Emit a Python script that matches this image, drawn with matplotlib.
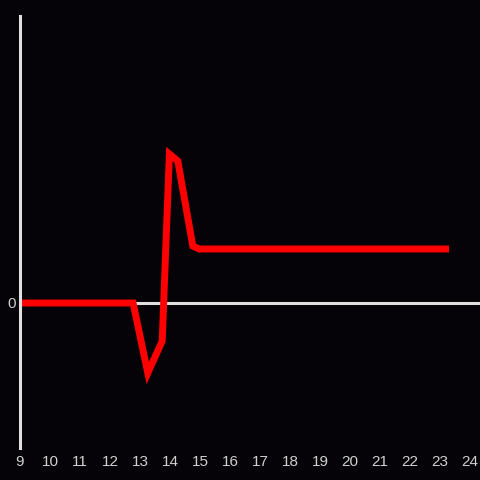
import matplotlib
matplotlib.use("Agg")
from matplotlib import pyplot as plt

# values
x = [9, 12.77, 13.26, 13.74, 13.98, 14.26, 14.76, 14.97, 23.3]
y = [0, 0, -0.70, -0.38, 1.49, 1.42, 0.57, 0.54, 0.54]
xticks = list(range(9, 25))

bg = "#050307"
fig = plt.figure(figsize=(4.8, 4.8), dpi=100, facecolor=bg)
ax = fig.add_axes([20/480, 32/480, 460/480, 432/480], facecolor=bg)

ax.axhline(0, color="#e0e0e0", lw=2.2, zorder=1)
ax.plot(x, y, color="#ff0000", lw=5, solid_joinstyle="miter",
        solid_capstyle="butt", zorder=2)

ax.set_xlim(9, 9 + 460/30)
ax.set_ylim(-1.45, 2.87)
ax.set_xticks(xticks)
ax.set_yticks([0])
ax.tick_params(length=0, colors="#d0d0d0", labelsize=11)
ax.tick_params(axis="x", pad=5)
ax.tick_params(axis="y", pad=3)
for lab in ax.get_xticklabels() + ax.get_yticklabels():
    lab.set_family(["Liberation Sans", "DejaVu Sans"])

for s in ["top", "right", "bottom"]:
    ax.spines[s].set_visible(False)
ax.spines["left"].set_color("#e0e0e0")
ax.spines["left"].set_linewidth(2.2)

fig.savefig("out.png", dpi=100, facecolor=bg)
